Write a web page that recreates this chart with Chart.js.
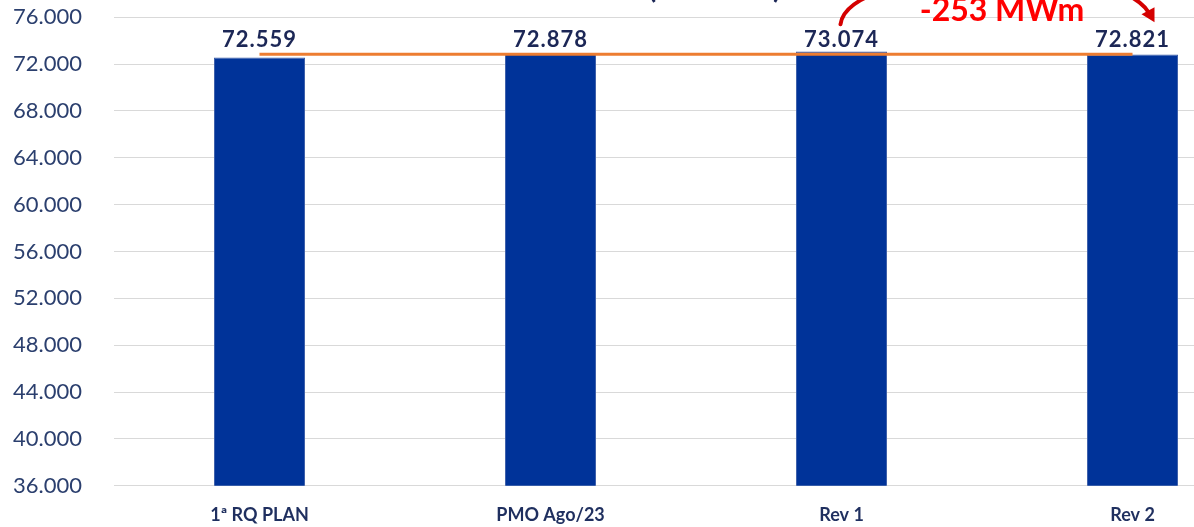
<!DOCTYPE html>
<html>
<head>
<meta charset="utf-8">
<script src="https://cdn.jsdelivr.net/npm/chart.js@4/dist/chart.umd.min.js"></script>
<style>
  html, body { margin: 0; padding: 0; background: #fff; overflow: hidden; }
  #wrap { position: absolute; left: 0; top: -28px; width: 1280px; height: 559px; }
</style>
</head>
<body>
<div id="wrap"><canvas id="chart"></canvas></div>
<script>
// DATA
const categories = ["1ª RQ PLAN", "PMO Ago/23", "Rev 1", "Rev 2"];
const cargaValues = [72559, 72878, 73074, 72821];
const mediaValues = [72833, 72833, 72833, 72833];
const yMin = 36000;
const yMax = 76000;
const yStep = 4000;
const deltaLabel = "-253 MWm";
const titleTail = "(MWmed)";

// pt-BR style thousands: 72559 -> "72.559"
function fmt(v) {
  const k = Math.floor(v / 1000);
  const r = String(Math.round(v % 1000)).padStart(3, "0");
  return k + "." + r;
}

// value labels over the bars + the red delta annotation
const labelsPlugin = {
  id: "labels",
  afterDatasetsDraw(chart) {
    const ctx = chart.ctx;
    const y = chart.scales.y;
    const meta = chart.getDatasetMeta(1);
    const top = y.getPixelForValue(y.max);
    const base = top + 30;
    ctx.save();
    ctx.font = "bold 22px Lato";
    ctx.letterSpacing = "1px";
    ctx.fillStyle = "#1C2756";
    ctx.textAlign = "center";
    ctx.textBaseline = "alphabetic";
    meta.data.forEach((el, i) => {
      ctx.fillText(fmt(cargaValues[i]), el.x, base);
    });
    ctx.letterSpacing = "0px";

    // title, mostly cut off above the picture
    ctx.font = "bold 30px Lato";
    ctx.textAlign = "left";
    ctx.fillText(titleTail, 648, top - 19);

    // red curved arrow Rev 1 -> Rev 2
    const a = meta.data[2], b = meta.data[3];
    const x0 = a.x - 1, y0 = base - 23;
    const x1 = b.x + 21, y1 = base - 26;
    ctx.strokeStyle = "#D40000";
    ctx.fillStyle = "#D40000";
    ctx.lineWidth = 4;
    ctx.lineCap = "round";
    ctx.beginPath();
    ctx.moveTo(x0, y0);
    ctx.bezierCurveTo(x0 + 8, y0 - 60, x1 - 40, y1 - 65, x1 - 5, y1 - 9);
    ctx.stroke();
    ctx.beginPath();
    ctx.moveTo(x1 + 1, y1 + 1);
    ctx.lineTo(x1 - 12, y1 - 7);
    ctx.lineTo(x1 + 1, y1 - 14);
    ctx.closePath();
    ctx.fill();

    ctx.font = "bold 32px Lato";
    ctx.fillStyle = "#FF0000";
    ctx.textAlign = "center";
    ctx.fillText(deltaLabel, (a.x + b.x) / 2 + 15, top + 4);
    ctx.restore();
  },
};

new Chart(document.getElementById("chart"), {
  data: {
    labels: categories,
    datasets: [
      {
        type: "line",
        data: mediaValues,
        borderColor: "#ED7D31",
        borderWidth: 3,
        pointRadius: 0,
        tension: 0,
        order: 0,
      },
      {
        type: "bar",
        data: cargaValues,
        backgroundColor: "#003399",
        borderColor: "#3A5CA8",
        borderWidth: 1,
        categoryPercentage: 1,
        barPercentage: 0.313,
        order: 1,
      },
    ],
  },
  options: {
    responsive: true,
    maintainAspectRatio: false,
    animation: false,
    layout: { padding: { top: 0, right: 2, left: 0, bottom: 0 } },
    plugins: {
      legend: { display: false },
      tooltip: { enabled: false },
    },
    scales: {
      x: {
        offset: true,
        grid: { display: false },
        border: { display: false },
        ticks: {
          color: "#1F2F5F",
          font: { family: "Lato", size: 18, weight: "bold" },
          padding: 11,
        },
        afterFit: (s) => { s.height = 42; },
      },
      y: {
        min: yMin,
        max: yMax,
        grid: { color: "#D9D9D9", lineWidth: 1, drawTicks: false },
        border: { display: false },
        ticks: {
          stepSize: yStep,
          color: "#2B3F6E",
          font: { family: "Lato", size: 22 },
          padding: 32,
          callback: (v) => fmt(v),
        },
        afterFit: (s) => { s.width = 114; },
      },
    },
  },
  plugins: [labelsPlugin],
});
</script>
</body>
</html>
